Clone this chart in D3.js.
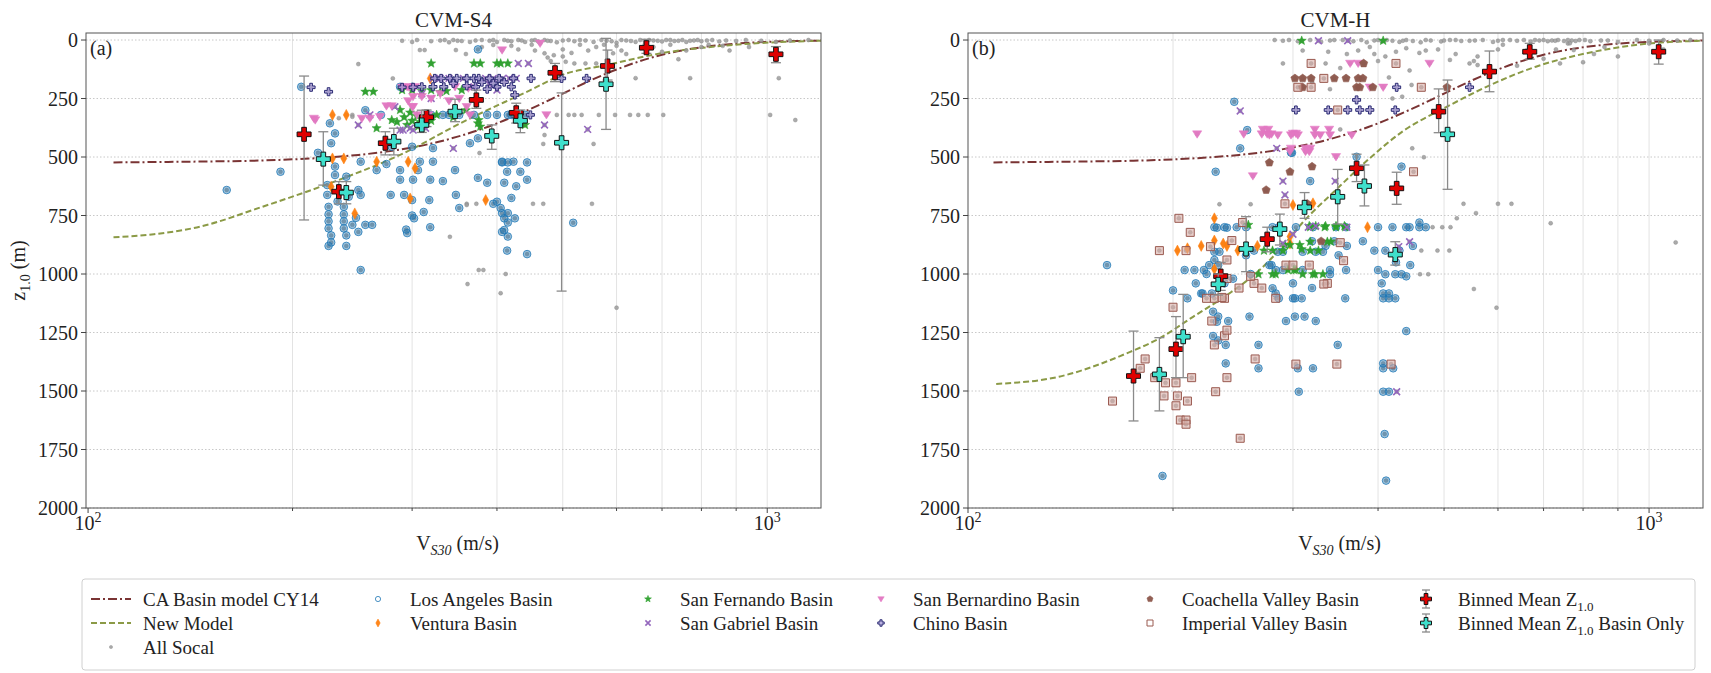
<!DOCTYPE html>
<html>
<head>
<meta charset="utf-8">
<script src="https://cdn.jsdelivr.net/npm/d3@7"></script>
<style>
  body { margin: 0; background: #fff; }
  text { font-family: "Liberation Serif", "DejaVu Serif", serif; fill: #222; }
</style>
</head>
<body>
<svg id="chart" width="1711" height="673"></svg>
<script>
// ---- data: [Vs30 (m/s), z1.0 (m)] ----
const yTicks = [0, 250, 500, 750, 1000, 1250, 1500, 1750, 2000];
const xMinor = [200, 300, 400, 500, 600, 700, 800, 900];
const xMajor = [100, 1000];

const cy14Line = [[109,523],[130,521],[150,519],[175,516],[200,510],[225,502],[250,491],[275,477],[300,459],[325,438],[350,413],[375,386],[400,356],[450,292],[500,229],[550,172],[600,126],[650,90],[700,63],[800,31],[900,15.5],[1000,7.9],[1100,4.2],[1200,2.4]];
const newModelS4 = [[109,843],[125,830],[146,798],[180,714],[230,606],[288,491],[361,342],[448,214],[498,150],[580,107],[697,57],[891,21],[1200,3]];
const newModelH = [[110,1470],[136,1439],[171,1339],[191,1275],[214,1183],[240,1090],[268,983],[290,880],[310,780],[347,640],[389,505],[435,390],[505,285],[577,200],[682,114],[808,57],[956,21],[1200,3]];

// CVM-S4 panel
const allSocalS4 = [[290,3],[300,8],[305,0],[320,5],[330,2],[340,10],[345,0],[355,4],[365,8],[380,0],[390,3],[400,8],[410,0],[420,5],[430,0],[440,8],[450,2],[460,6],[470,0],[480,4],[490,10],[510,0],[520,5],[540,2],[555,8],[570,0],[590,5],[600,12],[620,2],[640,8],[650,0],[660,4],[680,2],[700,6],[720,0],[740,3],[760,8],[780,2],[800,5],[830,0],[850,6],[870,2],[900,4],[930,0],[980,3],[1030,8],[1080,2],[1150,0],
  [395,21],[308,43],[313,43],[348,43],[470,57],[475,75],[480,90],[485,65],[505,93],[520,100],[540,100],[560,100],[593,57],[640,163],[740,82],[770,163],[1040,163],[1010,320],[1100,342],[490,320],[510,320],[520,320],[533,320],[565,320],[597,320],[628,320],[646,320],[667,320],[703,320],[470,406],[468,444],[555,444],[377,483],[552,700],[361,700],[373,700],[452,700],[468,700],[376,983],[382,983],[412,1000],[362,1043],[405,1082],[600,1144],[245,320],[341,841],[361,705],[250,103],[281,164],[245,328],[234,334],[360,60],[380,30],[420,25],[450,20],[500,40],[530,20],[560,30],[600,25],[680,30],[720,20],[800,30],[860,25],[620,60],[700,50],[430,40],[455,45],[500,70],[515,55],[545,45],[575,20],[610,45],[660,20],[760,45],[820,20],[880,45],[940,30],
  [335,0],[350,3],[372,2],[395,0],[415,3],[435,2],[455,0],[475,3],[500,2],[530,0],[580,3],[610,0],[630,4],[670,0],[690,3],[710,0],[730,4],[750,0],[770,3],[790,0],[815,2]];
const laBasinS4 = [[206,200],[160,641],[192,563],[227,356],[231,399],[228,441],[218,482],[231,541],[231,577],[240,584],[225,620],[225,662],[242,670],[250,641],[252,662],
  [226,713],[238,713],[226,745],[238,745],[226,775],[238,775],[226,805],[238,805],[245,790],[248,760],[233,690],[256,790],[262,790],[228,835],[240,835],[228,865],[240,880],[226,880],[250,820],
  [252,983],[252,520],[266,556],[275,530],[279,662],[288,556],[288,597],[292,662],[301,597],[308,520],[306,556],[300,750],[294,810],[319,597],[322,520],[333,603],[347,556],[348,662],[312,735],[319,800],[365,441],[375,589],[387,610],[395,700],[407,520],[414,563],[423,520],[433,563],[443,597],[410,610],[427,625],[407,740],[415,780],[407,820],[414,900],[443,915],[420,675],[322,462],[333,320],[370,320],[375,420],[280,456],[270,320],[256,300],
  [375,40],[387,320],[400,320],[415,320],[300,456],[407,523],[415,523],[443,523],[400,691],[405,718],[415,740],[410,762],[425,762],[410,812],[415,840],[518,781],[352,718],[318,684],[300,684],[302,762],[295,825],[320,320],[340,320],[352,320],[420,320],[430,320],[440,320],[288,200],[300,200]];
const venturaS4 = [[229,320],[240,320],[229,506],[238,506],[228,627],[247,741],[266,520],[296,520],[303,548],[298,677],[385,684],[319,164]];
const sanFernandoS4 = [[256,221],[263,221],[266,377],[280,342],[288,299],[295,363],[305,325],[308,350],[306,370],[320,100],[370,100],[378,100],[400,100],[405,100],[415,100],[290,214],[300,214],[310,218],[320,214],[330,222],[337,218],[355,214],[376,342],[378,370],[440,363],[292,330],[300,345],[312,340],[320,345],[285,350],[298,310],[326,320],[345,330],[360,300],[375,356]];
const sanGabrielS4 = [[250,363],[260,320],[283,285],[288,385],[298,377],[291,385],[314,377],[322,164],[330,164],[340,164],[357,164],[408,164],[417,164],[427,164],[430,100],[445,100],[345,463],[470,363],[544,382],[400,214],[301,385],[395,164],[385,164],[310,230],[320,250],[370,200],[390,190]];
const sanBernardinoS4 = [[215,335],[253,335],[260,335],[269,328],[275,282],[280,282],[290,202],[297,202],[301,242],[301,285],[305,320],[295,200],[303,200],[300,285],[317,320],[347,200],[363,206],[361,285],[407,43],[463,14],[473,320],[365,320],[216,342],[310,242],[320,250],[330,230],[340,260],[352,250],[296,260]];
const chinoS4 = [[213,202],[226,221],[290,202],[301,202],[324,164],[331,164],[341,164],[349,164],[361,164],[370,164],[376,164],[390,164],[403,164],[423,164],[449,164],[310,200],[322,200],[334,200],[361,196],[372,200],[387,210],[400,200],[420,200],[425,235],[542,164],[498,164],[448,320],[345,185],[380,180],[395,185],[410,180]];
// [Vs30, mean z, bar low z, bar high z]
const binnedS4 = [[208,403,154,769],[234,648,605,700],[274,441,392,491],[315,330,299,370],[373,256,214,292],[427,311,270,355],[487,140,100,178],[582,111,43,171],[664,33,-3,57],[1030,61,28,97]];
const binnedBasinS4 = [[222,509,392,620],[240,652,605,700],[282,434,377,491],[310,363,300,395],[347,306,253,349],[393,410,363,467],[433,345,299,396],[498,439,226,1073],[579,189,-7,382]];

// CVM-H panel
const allSocalH = [[282,0],[290,3],[296,0],[305,5],[318,0],[330,8],[340,2],[355,0],[368,5],[378,0],[385,10],[395,2],[405,6],[412,0],[420,3],[430,8],[440,0],[450,4],[462,10],[478,2],[495,6],[510,0],[530,4],[555,2],[590,8],[610,0],[640,3],[655,0],[670,6],[690,2],[700,0],[710,5],[720,2],[735,0],[750,4],[770,2],[790,0],[820,5],[870,2],[900,8],[960,0],[1000,3],[1050,0],[1100,2],[1150,0],
  [310,45],[338,50],[374,45],[389,30],[395,60],[400,90],[410,70],[425,50],[440,35],[460,55],[470,45],[490,40],[510,85],[520,60],[545,100],[560,70],[600,40],[610,20],[640,110],[660,45],[700,80],[730,40],[760,15],[800,95],[830,60],[860,30],[900,70],[1000,15],[1050,40],[553,90],[560,107],[448,192],[434,242],[765,14],[775,43],[740,100],[290,100],[335,100],[352,120],[360,60],[320,180],[340,210],[415,160],[445,130],
  [234,702],[260,702],[352,382],[534,700],[600,700],[628,700],[557,740],[522,762],[717,783],[1094,865],[449,463],[467,501],[461,1001],[474,1001],[553,1064],[597,1144],[463,900],[489,900],[509,900],[481,800],[497,800],[511,800],[420,250],
  [345,0],[362,2],[400,0],[435,3],[470,0],[500,2],[520,0],[545,3],[570,0],[600,3],[625,0],[680,0],[728,3],[760,0],[780,4],[805,0],[850,2]];
const laBasinH = [[246,264],[257,385],[251,463],[231,563],[240,802],[232,802],[160,962],[193,1863],[208,983],[215,983],[222,983],[226,962],[233,962],[220,1083],[229,1161],[233,1182],[232,1204],[229,1265],[233,1284],[239,1303],[241,1201],[239,1382],[259,1182],[267,1303],[267,1403],[279,962],[280,1061],[283,1083],[293,1201],[299,482],[318,603],[230,800],[238,800],[248,800],[280,800],[286,800],[303,800],[321,800],[347,800],[359,800],[230,905],[234,905],[285,905],[290,905],[310,905],[324,905],[332,905],[283,983],[290,983],[310,983],[340,983],[359,983],[221,1083],[228,1083],[286,1104],[302,1104],[309,1104],[312,1182],[324,1201],[302,1182],[349,1303],[358,1104],[300,1104],[305,1403],[321,1403],[306,1503],[407,1083],[415,1083],[407,1104],[415,1104],[424,1104],[407,1382],[407,1403],[421,1403],[407,1503],[415,1503],[409,1684],[411,1883],[440,1244],[446,962],[400,983],[410,1001],[424,1001],[433,1001],[340,1001],[277,962],[372,499],[433,541],[298,481],[263,900],[256,800],[256,920],[320,860],[335,880],[360,880],[380,860],[400,800],[420,800],[440,800],[460,800],[395,900],[410,900],[430,900],[450,880],[425,950],[460,780],[470,800],[445,800],[350,920],[345,860],[230,940],[245,1020],[238,1040],[260,1000],[300,1040],[320,1060],[405,1040],[440,1010],[224,1000],[210,1104],[216,1040],[200,1070]];
const venturaH = [[230,762],[230,857],[237,870],[240,880],[249,900],[266,880],[297,870],[230,979],[300,705],[321,698],[386,800],[220,880],[210,890],[203,900],[297,840]];
const sanFernandoH = [[258,790],[267,1001],[280,1001],[283,1001],[292,876],[297,876],[307,876],[317,795],[324,795],[335,795],[347,795],[357,795],[337,862],[341,862],[303,983],[321,1001],[332,1001],[309,894],[318,900],[327,900],[301,983],[295,983],[310,1001],[323,1001],[309,3],[407,3],[318,800],[334,800],[347,800],[358,800],[272,900],[280,900],[290,900],[318,862]];
const sanGabrielH = [[251,303],[284,463],[290,603],[292,662],[346,603],[324,795],[327,3],[361,3],[426,1503],[429,883],[445,862],[316,800],[360,800],[300,830],[290,870]];
const sanBernardinoH = [[217,402],[254,402],[270,402],[275,402],[279,402],[262,581],[271,382],[276,382],[300,399],[303,399],[323,382],[339,382],[297,477],[313,477],[317,477],[347,499],[364,100],[374,100],[476,100],[389,202],[407,202],[277,406],[285,406],[298,406],[305,406],[323,406],[329,406],[340,406],[366,406],[298,463],[313,463],[318,463]];
const chinoH = [[426,202],[545,202],[338,299],[361,299],[376,299],[389,299],[372,256],[303,299],[424,299]];
const coachellaH = [[277,524],[297,563],[320,541],[274,641],[302,164],[310,164],[319,164],[345,164],[359,164],[374,164],[380,164],[310,202],[372,202],[376,202],[393,202],[381,100],[505,202],[315,700],[330,860]];
const imperialH = [[204,762],[212,822],[191,900],[209,900],[227,883],[244,857],[253,780],[292,700],[200,1142],[182,1363],[179,1403],[188,1443],[195,1465],[202,1465],[213,1443],[163,1543],[194,1521],[203,1521],[202,1563],[210,1543],[205,1624],[209,1624],[209,1642],[251,1702],[231,1503],[240,1443],[230,1303],[238,1264],[264,1363],[228,1201],[263,1040],[283,1104],[224,1104],[230,1104],[238,1104],[293,962],[240,1019],[240,940],[250,1060],[317,962],[337,1040],[352,866],[303,1385],[348,1385],[418,1385],[300,962],[356,943],[333,1043],[319,100],[425,100],[333,164],[305,202],[319,202],[349,299],[463,202],[451,563],[260,1010],[270,1060],[236,1100],[240,1240]];
const binnedH = [[175,1436,1244,1628],[202,1321,1182,1443],[235,1009,950,1070],[275,851,800,905],[372,548,488,605],[426,634,565,702],[491,306,209,396],[583,135,47,221],[668,50,14,82],[1033,50,0,103]];
const binnedBasinH = [[191,1429,1272,1585],[207,1268,1087,1443],[233,1044,1000,1090],[256,893,755,990],[287,808,744,876],[312,715,652,762],[349,670,553,786],[382,624,534,709],[424,917,862,962],[506,403,171,638]];

// ---- marker shapes ----
function plusPath(s) {
  const a = s / 3;
  return `M${-a},${-s}H${a}V${-a}H${s}V${a}H${a}V${s}H${-a}V${a}H${-s}V${-a}H${-a}Z`;
}
function starPath(r) {
  const pts = [];
  for (let i = 0; i < 10; i++) {
    const rr = i % 2 ? r * 0.42 : r;
    const a = -Math.PI / 2 + i * Math.PI / 5;
    pts.push([(rr * Math.cos(a)).toFixed(2), (rr * Math.sin(a)).toFixed(2)]);
  }
  return "M" + pts.map(p => p.join(",")).join("L") + "Z";
}
function pentagonPath(r) {
  const pts = [];
  for (let i = 0; i < 5; i++) {
    const a = -Math.PI / 2 + i * 2 * Math.PI / 5;
    pts.push([(r * Math.cos(a)).toFixed(2), (r * Math.sin(a)).toFixed(2)]);
  }
  return "M" + pts.map(p => p.join(",")).join("L") + "Z";
}
const circlePath = r => `M${r},0A${r},${r} 0 1,1 ${-r},0A${r},${r} 0 1,1 ${r},0Z`;
const triDownPath = s => `M${-s},${-s * 0.7}L${s},${-s * 0.7}L0,${s * 0.9}Z`;
const diamondPath = (w, h) => `M0,${-h}L${w},0L0,${h}L${-w},0Z`;
const squarePath = s => `M${-s},${-s}H${s}V${s}H${-s}Z`;
const xPath = s => `M${-s},${-s}L${s},${s}M${-s},${s}L${s},${-s}`;

const styles = {
  gray:   { d: circlePath(2.0), fill: "#9c9c9c", fo: 0.85, stroke: "#858585", so: 0.8, sw: 0.5, ld: circlePath(1.6) },
  la:     { d: circlePath(3.8), fill: "#1f77b4", fo: 0.42, stroke: "#1f77b4", so: 0.8, sw: 1, ld: circlePath(2.6), lfill: "none" },
  ven:    { d: diamondPath(3, 5.5), fill: "#ff7f0e", fo: 0.95, stroke: "#ff7f0e", so: 1, sw: 0.5, ld: diamondPath(2.2, 4) },
  sf:     { d: starPath(4.8), fill: "#2ca02c", fo: 0.95, stroke: "#2ca02c", so: 1, sw: 0.5, ld: starPath(3.6) },
  sg:     { d: xPath(3.4), fill: "none", fo: 0, stroke: "#9467bd", so: 1, sw: 1.6, ld: xPath(2.6) },
  sb:     { d: triDownPath(4.6), fill: "#e377c2", fo: 0.95, stroke: "#e377c2", so: 1, sw: 0.5, ld: triDownPath(3.2) },
  chino:  { d: plusPath(4.0), fill: "#a397d6", fo: 0.75, stroke: "#2a2a72", so: 1, sw: 1, ld: plusPath(3.2) },
  coach:  { d: pentagonPath(4.3), fill: "#8c564b", fo: 0.95, stroke: "#8c564b", so: 1, sw: 0.5, ld: pentagonPath(3.2) },
  imp:    { d: squarePath(4), fill: "#d7aea7", fo: 0.6, stroke: "#9a5a50", so: 1, sw: 1, ld: squarePath(3), lfill: "none" }
};

const svg = d3.select("#chart");
const plotTop = 33, plotBottom = 508;

const panels = [
  { key: "a", title: "CVM-S4", tag: "(a)", left: 86, right: 821, xDomain: [99.3, 1200], ylabel: true,
    newModel: newModelS4, gray: allSocalS4,
    series: [["la", laBasinS4], ["ven", venturaS4], ["sf", sanFernandoS4], ["sg", sanGabrielS4], ["sb", sanBernardinoS4], ["chino", chinoS4]],
    binned: binnedS4, binnedBasin: binnedBasinS4 },
  { key: "b", title: "CVM-H", tag: "(b)", left: 968, right: 1703, xDomain: [100, 1200], ylabel: false,
    newModel: newModelH, gray: allSocalH,
    series: [["la", laBasinH], ["ven", venturaH], ["sf", sanFernandoH], ["sg", sanGabrielH], ["sb", sanBernardinoH], ["chino", chinoH], ["coach", coachellaH], ["imp", imperialH]],
    binned: binnedH, binnedBasin: binnedBasinH }
];

function drawMarkers(g, data, st, x, y) {
  g.append("g").selectAll("path").data(data).join("path")
    .attr("transform", d => `translate(${x(d[0]).toFixed(2)},${y(d[1]).toFixed(2)})`)
    .attr("d", st.d)
    .attr("fill", st.fill).attr("fill-opacity", st.fo)
    .attr("stroke", st.stroke).attr("stroke-opacity", st.so).attr("stroke-width", st.sw);
}

function drawBinned(g, data, color, x, y) {
  const eb = g.append("g").attr("stroke", "#8a8a8a").attr("stroke-width", 1.3).attr("fill", "none");
  eb.selectAll("line.v").data(data).join("line").attr("class", "v")
    .attr("x1", d => x(d[0])).attr("x2", d => x(d[0]))
    .attr("y1", d => y(d[2])).attr("y2", d => y(d[3]));
  eb.selectAll("line.lo").data(data).join("line").attr("class", "lo")
    .attr("x1", d => x(d[0]) - 5).attr("x2", d => x(d[0]) + 5)
    .attr("y1", d => y(d[2])).attr("y2", d => y(d[2]));
  eb.selectAll("line.hi").data(data).join("line").attr("class", "hi")
    .attr("x1", d => x(d[0]) - 5).attr("x2", d => x(d[0]) + 5)
    .attr("y1", d => y(d[3])).attr("y2", d => y(d[3]));
  g.append("g").selectAll("path").data(data).join("path")
    .attr("transform", d => `translate(${x(d[0])},${y(d[1])})`)
    .attr("d", plusPath(7))
    .attr("fill", color).attr("stroke", "#111").attr("stroke-width", 1);
}

panels.forEach(p => {
  const x = d3.scaleLog().domain(p.xDomain).range([p.left, p.right]);
  const y = d3.scaleLinear().domain([-30, 2000]).range([plotTop, plotBottom]);
  const g = svg.append("g");

  svg.append("clipPath").attr("id", "clip-" + p.key).append("rect")
    .attr("x", p.left).attr("y", plotTop).attr("width", p.right - p.left).attr("height", plotBottom - plotTop);

  // grid
  g.append("g").selectAll("line").data(xMinor.concat([1000])).join("line")
    .attr("x1", d => x(d)).attr("x2", d => x(d)).attr("y1", plotTop).attr("y2", plotBottom)
    .attr("stroke", "#e3e3e3").attr("stroke-width", 1);
  g.append("g").selectAll("line").data(yTicks).join("line")
    .attr("x1", p.left).attr("x2", p.right).attr("y1", d => y(d)).attr("y2", d => y(d))
    .attr("stroke", "#c8c8c8").attr("stroke-width", 1).attr("stroke-dasharray", "1.5,2");

  const plot = g.append("g").attr("clip-path", `url(#clip-${p.key})`);

  // model curves
  const line = d3.line().x(d => x(d[0])).y(d => y(d[1])).curve(d3.curveMonotoneX);
  plot.append("path").datum(cy14Line).attr("d", line).attr("fill", "none")
    .attr("stroke", "#7a3434").attr("stroke-width", 2).attr("stroke-dasharray", "9,3,2,3");
  plot.append("path").datum(p.newModel).attr("d", line).attr("fill", "none")
    .attr("stroke", "#8b9a46").attr("stroke-width", 2).attr("stroke-dasharray", "6,3");

  // all sites (gray), including the basin sites
  const allSites = p.gray.concat(...p.series.map(s => s[1]));
  drawMarkers(plot, allSites, styles.gray, x, y);
  p.series.forEach(([k, data]) => drawMarkers(plot, data, styles[k], x, y));

  drawBinned(plot, p.binned, "#e00000", x, y);
  drawBinned(plot, p.binnedBasin, "#3fe0cc", x, y);

  // frame
  g.append("rect").attr("x", p.left).attr("y", plotTop)
    .attr("width", p.right - p.left).attr("height", plotBottom - plotTop)
    .attr("fill", "none").attr("stroke", "#555").attr("stroke-width", 1);

  // y ticks
  const yt = g.append("g");
  yt.selectAll("line").data(yTicks).join("line")
    .attr("x1", p.left - 5).attr("x2", p.left).attr("y1", d => y(d)).attr("y2", d => y(d))
    .attr("stroke", "#444");
  yt.selectAll("text").data(yTicks).join("text")
    .attr("x", p.left - 8).attr("y", d => y(d)).attr("dy", "0.35em")
    .attr("text-anchor", "end").attr("font-size", 20).text(d => d);

  // x ticks
  const xt = g.append("g");
  xt.selectAll("line.mn").data(xMinor).join("line").attr("class", "mn")
    .attr("x1", d => x(d)).attr("x2", d => x(d)).attr("y1", plotBottom).attr("y2", plotBottom + 3)
    .attr("stroke", "#444");
  xt.selectAll("line.mj").data(xMajor).join("line").attr("class", "mj")
    .attr("x1", d => x(d)).attr("x2", d => x(d)).attr("y1", plotBottom).attr("y2", plotBottom + 5)
    .attr("stroke", "#444");
  const xl = xt.selectAll("text").data(xMajor).join("text")
    .attr("x", d => x(d)).attr("y", plotBottom + 22).attr("text-anchor", "middle").attr("font-size", 20);
  xl.append("tspan").text("10");
  xl.append("tspan").attr("dy", -8).attr("font-size", 14).text(d => Math.round(Math.log10(d)));

  // titles
  g.append("text").attr("x", (p.left + p.right) / 2).attr("y", 27)
    .attr("text-anchor", "middle").attr("font-size", 21).text(p.title);
  g.append("text").attr("x", p.left + 4).attr("y", 55).attr("font-size", 20).text(p.tag);

  const xt2 = g.append("text").attr("x", (p.left + p.right) / 2 + 4).attr("y", 550)
    .attr("text-anchor", "middle").attr("font-size", 20);
  xt2.append("tspan").text("V");
  xt2.append("tspan").attr("dy", 5).attr("font-size", 14).attr("font-style", "italic").text("S30");
  xt2.append("tspan").attr("dy", -5).text(" (m/s)");

  if (p.ylabel) {
    const yl = g.append("text").attr("transform", `translate(25,${(plotTop + plotBottom) / 2}) rotate(-90)`)
      .attr("text-anchor", "middle").attr("font-size", 20);
    yl.append("tspan").text("z");
    yl.append("tspan").attr("dy", 5).attr("font-size", 14).text("1.0");
    yl.append("tspan").attr("dy", -5).text(" (m)");
  }
});

// ---- legend ----
const legendLabels = [
  ["line", "CA Basin model CY14", 0, 0], ["line2", "New Model", 0, 1], ["gray", "All Socal", 0, 2],
  ["la", "Los Angeles Basin", 1, 0], ["ven", "Ventura Basin", 1, 1],
  ["sf", "San Fernando Basin", 2, 0], ["sg", "San Gabriel Basin", 2, 1],
  ["sb", "San Bernardino Basin", 3, 0], ["chino", "Chino Basin", 3, 1],
  ["coach", "Coachella Valley Basin", 4, 0], ["imp", "Imperial Valley Basin", 4, 1],
  ["red", "Binned Mean Z|1.0", 5, 0], ["cyan", "Binned Mean Z|1.0| Basin Only", 5, 1]
];
const legendTextX = [143, 410, 680, 913, 1182, 1458];
const legendRowY = [599, 623, 647];

const lg = svg.append("g");
lg.append("rect").attr("x", 82).attr("y", 579).attr("width", 1613).attr("height", 91)
  .attr("rx", 3).attr("fill", "#fff").attr("stroke", "#d0d0d0").attr("stroke-width", 1);

legendLabels.forEach(([k, label, col, row]) => {
  const tx = legendTextX[col], ty = legendRowY[row];
  const hx = col === 0 ? 111 : tx - 32;
  if (k === "line" || k === "line2") {
    lg.append("line").attr("x1", 91).attr("x2", 131).attr("y1", ty).attr("y2", ty)
      .attr("stroke", k === "line" ? "#7a3434" : "#8b9a46").attr("stroke-width", 2)
      .attr("stroke-dasharray", k === "line" ? "9,3,2,3" : "6,3");
  } else if (k === "red" || k === "cyan") {
    lg.append("line").attr("x1", hx).attr("x2", hx).attr("y1", ty - 9).attr("y2", ty + 9)
      .attr("stroke", "#8a8a8a").attr("stroke-width", 1.3);
    [ty - 9, ty + 9].forEach(cy => lg.append("line").attr("x1", hx - 4).attr("x2", hx + 4)
      .attr("y1", cy).attr("y2", cy).attr("stroke", "#8a8a8a").attr("stroke-width", 1.3));
    lg.append("path").attr("transform", `translate(${hx},${ty})`).attr("d", plusPath(5.5))
      .attr("fill", k === "red" ? "#e00000" : "#3fe0cc").attr("stroke", "#111").attr("stroke-width", 1);
  } else {
    const st = styles[k];
    lg.append("path").attr("transform", `translate(${hx},${ty})`).attr("d", st.ld)
      .attr("fill", st.lfill || st.fill).attr("fill-opacity", st.fo)
      .attr("stroke", st.stroke).attr("stroke-opacity", st.so).attr("stroke-width", st.sw);
  }
  const t = lg.append("text").attr("x", tx).attr("y", ty).attr("dy", "0.35em").attr("font-size", 19);
  const parts = label.split("|");
  t.append("tspan").text(parts[0]);
  if (parts.length > 1) {
    t.append("tspan").attr("dy", 5).attr("font-size", 13).text(parts[1]);
    if (parts[2]) t.append("tspan").attr("dy", -5).text(parts[2]);
  }
});
</script>
</body>
</html>
